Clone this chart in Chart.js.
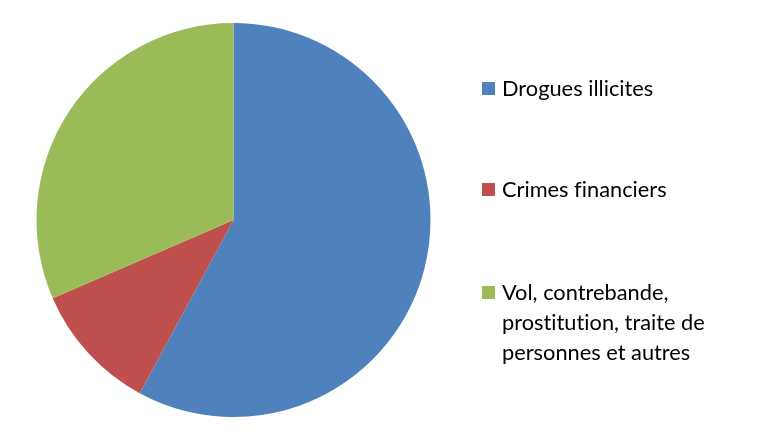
<!DOCTYPE html>
<html>
<head>
<meta charset="utf-8">
<script src="https://cdn.jsdelivr.net/npm/chart.js@4/dist/chart.umd.min.js"></script>
<style>
  html, body { margin: 0; padding: 0; background: #fff; }
  #wrap { position: relative; width: 763px; height: 435px; }
  #legend { position: absolute; left: 482px; top: 0; font-family: Lato, "Open Sans", sans-serif; font-size: 21.8px; color: #000; font-variant-ligatures: none; }
  .item { position: absolute; left: 0; display: flex; align-items: flex-start; width: 270px; line-height: 30px; }
  .box { width: 13px; height: 13px; margin-top: 9px; margin-right: 7px; flex: none; }
</style>
</head>
<body>
<div id="wrap">
  <canvas id="pieChart" width="763" height="435"></canvas>
  <div id="legend"></div>
</div>
<script>
// Données
const categories = ["Drogues illicites", "Crimes financiers", "Vol, contrebande, prostitution, traite de personnes et autres"];
const values = [57.9, 10.6, 31.5];
const colors = ["#4F81BD", "#C0504D", "#9BBB59"];
const legendTops = [73, 174, 277];

const ctx = document.getElementById('pieChart').getContext('2d');

const pieChart = new Chart(ctx, {
    type: 'pie',
    data: {
        labels: categories,
        datasets: [{
            data: values,
            backgroundColor: colors,
            borderWidth: 0,
        }],
    },
    options: {
        responsive: false,
        animation: false,
        layout: { padding: { left: 36, right: 332, top: 23, bottom: 18 } },
        plugins: {
            legend: { display: false },
            tooltip: { enabled: false },
        },
    },
});

// Légende HTML (texte réel)
const legendEl = document.getElementById('legend');
pieChart.data.labels.forEach((label, i) => {
    const item = document.createElement('div');
    item.className = 'item';
    item.style.top = legendTops[i] + 'px';
    item.innerHTML = `<span class="box" style="background:${colors[i]}"></span><span>${label}</span>`;
    legendEl.appendChild(item);
});
</script>
</body>
</html>
